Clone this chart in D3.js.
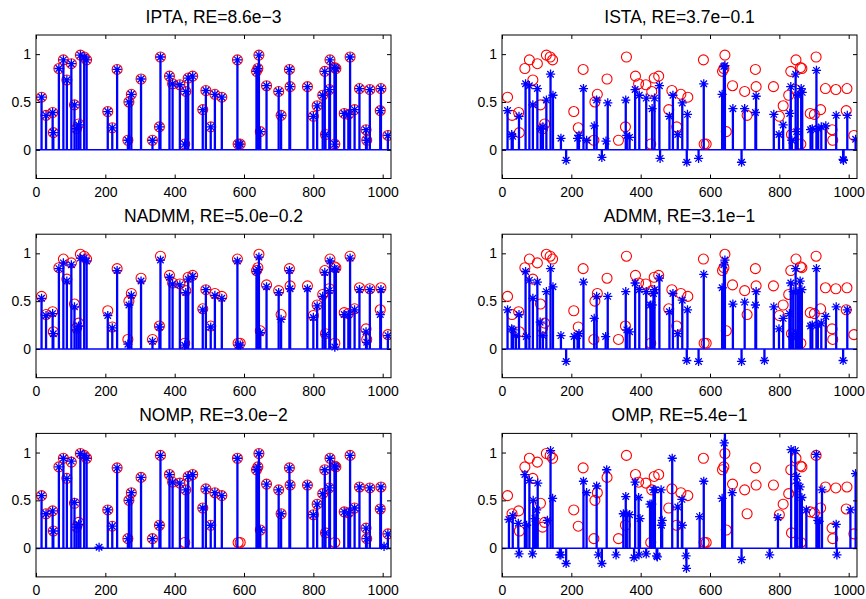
<!DOCTYPE html>
<html>
<head>
<meta charset="utf-8">
<script src="https://cdn.jsdelivr.net/npm/d3@7"></script>
<style>
  body { margin: 0; background: #fff; }
  svg { display: block; }
  text { font-family: "Liberation Sans", Arial, Helvetica, sans-serif; fill: #000; }
</style>
</head>
<body>
<svg id="chart" width="866" height="599"></svg>
<script>
// true sparse signal (red circles), [index, value]
var truth = [[16,.55],[29,.36],[48,.39],[50,.18],[66,.85],[79,.94],[89,.73],[102,.90],[111,.47],[117,.22],[123,.27],[128,.99],[139,.97],[146,.94],
  [207,.40],[220,.23],[234,.84],[265,.10],[268,.50],[275,.58],[303,.74],[336,.10],[356,.24],[359,.97],
  [385,.77],[394,.69],[415,.68],[429,.06],[432,.61],[439,.75],[452,.77],[481,.42],[490,.62],[504,.24],[516,.58],[536,.55],
  [581,.94],[583,.06],[589,.06],[636,.82],[640,.85],[643,.99],[647,.19],[665,.67],[700,.61],[707,.36],[731,.84],[733,.66],
  [783,.66],[800,.35],[811,.46],[827,.57],[833,.82],[835,.16],[846,.63],[848,.94],[861,.86],[862,.06],[865,.85],
  [889,.38],[901,.37],[906,.97],[919,.42],[933,.64],[952,.21],[954,.10],[963,.63],[993,.41],[995,.64],[1015,.15]];

// recovered signals (blue stems)
var ipta = [[16,.55],[29,.36],[48,.39],[50,.18],[66,.85],[79,.94],[89,.73],[102,.90],[111,.47],[117,.22],[123,.26],[128,.99],[139,.97],[146,.94],
  [207,.40],[220,.23],[234,.84],[265,.10],[268,.50],[275,.58],[303,.74],[336,.10],[356,.24],[359,.97],
  [385,.77],[394,.69],[415,.68],[429,.06],[432,.61],[439,.75],[452,.77],[481,.42],[490,.62],[504,.24],[516,.58],[536,.55],
  [581,.94],[583,.06],[589,.06],[636,.82],[640,.85],[643,.99],[647,.19],[665,.67],[700,.61],[707,.36],[731,.84],[733,.66],
  [783,.66],[800,.35],[811,.46],[827,.57],[833,.82],[835,.16],[846,.63],[848,.94],[861,.86],[862,.06],[865,.85],
  [889,.38],[901,.37],[906,.97],[919,.42],[933,.64],[952,.21],[954,.10],[963,.63],[993,.41],[995,.64],[1015,.15]];

var ista = [[16,.41],[28,.16],[31,.14],[49,.35],[68,.69],[79,.67],[89,.47],[102,.64],[112,.22],[118,.24],[128,.52],[140,.79],[147,.57],
  [170,.12],[185,-.11],[218,.12],[222,.15],[235,.64],[244,.10],[266,.25],[273,.52],[288,-.08],[300,.09],[305,.49],
  [357,.52],[360,.15],[368,.13],[384,.63],[396,.57],[416,.54],[433,.43],[440,.54],[454,.67],[456,-.09],
  [483,.35],[493,.57],[507,.16],[520,.49],[533,-.13],[535,.37],[567,-.09],[582,.69],[635,.58],[640,.87],[643,.88],
  [666,.43],[691,-.13],[700,.43],[731,.39],[733,.56],[784,.37],[799,.16],[811,.26],[830,.38],[833,.66],[836,.10],
  [847,.79],[850,.19],[853,.57],[863,.64],[866,.60],[890,.21],[895,.22],[907,.83],[912,.22],[921,.24],[934,.25],
  [964,.36],[984,-.10],[985,-.11],[996,.36],[1020,.11]];

var nadmm = [[16,.53],[29,.35],[48,.37],[50,.16],[66,.84],[79,.90],[89,.71],[102,.88],[111,.44],[117,.20],[123,.24],[128,.95],[139,.95],[146,.92],
  [207,.35],[220,.22],[234,.82],[265,.05],[268,.46],[275,.56],[303,.71],[336,.08],[356,.23],[359,.93],
  [385,.75],[394,.68],[415,.67],[429,.04],[432,.59],[439,.73],[452,.76],[481,.41],[490,.62],[504,.23],[516,.56],[536,.53],
  [581,.92],[583,.04],[589,.04],[636,.81],[640,.83],[643,.96],[647,.17],[665,.65],[700,.59],[707,.31],[731,.82],[733,.63],
  [783,.63],[800,.33],[811,.45],[827,.55],[833,.80],[835,.15],[846,.61],[848,.92],[861,.84],[862,.02],[865,.83],
  [889,.36],[901,.36],[906,.95],[919,.41],[933,.62],[952,.18],[954,.07],[963,.62],[993,.36],[995,.62],[1015,.14]];

var admm = [[16,.41],[28,.21],[32,.20],[40,.14],[49,.36],[68,.81],[70,.13],[79,.72],[89,.53],[102,.70],[110,.28],[118,.14],[128,.60],[140,.84],[147,.65],
  [170,.14],[185,-.13],[208,.13],[218,.14],[222,.16],[235,.70],[266,.32],[273,.55],[299,.13],[305,.55],
  [357,.60],[360,.20],[368,.18],[384,.69],[396,.62],[416,.60],[428,.46],[433,.46],[437,.58],[440,.62],[454,.74],
  [483,.39],[493,.58],[507,.16],[520,.51],[533,-.12],[535,.41],[567,-.13],[582,.78],[635,.64],[640,.88],[643,.93],
  [666,.47],[691,-.13],[700,.49],[731,.46],[733,.60],[757,-.12],[784,.44],[799,.21],[811,.32],[829,.37],[833,.69],[836,.13],
  [840,.60],[847,.84],[851,.16],[854,.60],[860,.71],[865,.62],[890,.24],[895,.25],[907,.84],[911,.25],[921,.27],[934,.34],
  [964,.44],[984,-.12],[996,.41]];

var nomp = [[16,.55],[29,.36],[48,.39],[50,.18],[66,.85],[79,.94],[89,.73],[102,.91],[111,.48],[117,.22],[123,.25],[128,.99],[139,.97],[146,.94],
  [182,.01],[207,.40],[220,.23],[234,.84],[265,.10],[268,.50],[275,.58],[303,.74],[336,.10],[356,.24],[359,.97],
  [385,.77],[394,.69],[415,.68],[432,.61],[439,.75],[452,.77],[481,.42],[490,.62],[504,.24],[516,.58],[536,.55],
  [581,.94],[636,.82],[640,.85],[643,.99],[647,.19],[665,.67],[700,.61],[707,.36],[731,.84],[733,.66],
  [783,.66],[800,.35],[811,.46],[827,.57],[833,.82],[835,.16],[846,.63],[848,.94],[861,.86],[865,.85],
  [889,.38],[901,.37],[906,.97],[919,.42],[933,.64],[952,.21],[954,.10],[963,.63],[993,.41],[995,.64],[1004,.02],[1015,.15]];

var omp = [[20,.30],[31,.34],[47,.26],[49,-.06],[66,.77],[71,.24],[79,.71],[88,-.06],[90,.50],[95,.31],[100,.40],[103,.68],
  [131,.29],[140,1.02],[146,.52],[167,-.07],[170,-.07],[185,-.16],[235,.70],[244,.58],[273,.65],[278,-.07],[288,-.16],[302,.82],
  [329,-.07],[350,.36],[357,.54],[360,.36],[368,.35],[381,-.10],[384,.69],[394,.53],[395,-.07],[398,.31],[416,-.06],
  [427,.46],[432,.46],[437,.61],[441,.61],[446,-.08],[448,-.09],[459,.61],[460,.24],[462,.29],[491,.94],[507,.43],
  [519,.51],[520,.24],[531,-.08],[532,-.21],[570,.33],[582,.70],[635,.52],[641,1.10],[643,1.35],[664,.58],[691,-.12],
  [772,-.07],[796,.32],[834,1.03],[846,1.02],[850,.75],[852,.68],[860,.64],[865,.53],[878,.40],[907,.98],[911,.29],
  [915,.28],[923,.61],[964,.25],[966,-.07],[1005,.40],[1020,.78]];

var xTicks = [0, 200, 400, 600, 800, 1000];
var yTicks = [0, 0.5, 1];

var panels = [
  {title: "IPTA, RE=8.6e\u22123", est: ipta},
  {title: "ISTA, RE=3.7e\u22120.1", est: ista},
  {title: "NADMM, RE=5.0e\u22120.2", est: nadmm},
  {title: "ADMM, RE=3.1e\u22121", est: admm},
  {title: "NOMP, RE=3.0e\u22122", est: nomp},
  {title: "OMP, RE=5.4e\u22121", est: omp}
];

//LAYOUT
var colX = [36, 502];
var rowY = [35, 234.2, 433.4];
var plotW = 355, plotH = 143.5;

var svg = d3.select("#chart");

var x = d3.scaleLinear().domain([0, 1024]).range([0, plotW]);
var y = d3.scaleLinear().domain([-0.3, 1.2]).range([plotH, 0]);

// MATLAB style asterisk: + and x overlaid
var r = 4.6, dg = r * 0.7071;
var star = "M0," + (-r) + "V" + r + "M" + (-r) + ",0H" + r +
  "M" + (-dg) + "," + (-dg) + "L" + dg + "," + dg + "M" + (-dg) + "," + dg + "L" + dg + "," + (-dg);

panels.forEach(function(p, i) {
  var col = i % 2, row = Math.floor(i / 2);
  var g = svg.append("g").attr("transform", "translate(" + colX[col] + "," + rowY[row] + ")");

  g.append("clipPath").attr("id", "clip" + i)
    .append("rect").attr("width", plotW).attr("height", plotH);

  var plot = g.append("g").attr("clip-path", "url(#clip" + i + ")");

  //baseline
  plot.append("line")
    .attr("x1", x(0)).attr("x2", x(1024))
    .attr("y1", y(0)).attr("y2", y(0))
    .style("stroke", "#0000ff").style("stroke-width", 1.6);

  //true values
  plot.selectAll("circle").data(truth).join("circle")
    .attr("cx", d => x(d[0]))
    .attr("cy", d => y(d[1]))
    .attr("r", 5)
    .style("fill", "none").style("stroke", "#ff0000").style("stroke-width", 1.1);

  //stems
  plot.selectAll("line.stem").data(p.est).join("line")
    .classed("stem", true)
    .attr("x1", d => x(d[0])).attr("x2", d => x(d[0]))
    .attr("y1", y(0)).attr("y2", d => y(d[1]))
    .style("stroke", "#0000ff").style("stroke-width", 2.3);

  plot.selectAll("path.mark").data(p.est).join("path")
    .classed("mark", true)
    .attr("d", star)
    .attr("transform", d => "translate(" + x(d[0]) + "," + y(d[1]) + ")")
    .style("fill", "none").style("stroke", "#0000ff").style("stroke-width", 1.3);

  //axes, ticks point inward on all four sides
  g.append("g").attr("transform", "translate(0," + plotH + ")")
    .call(d3.axisBottom(x).tickValues(xTicks).tickFormat(d3.format("d")).tickSizeInner(-4).tickSizeOuter(0).tickPadding(8.5));
  g.append("g")
    .call(d3.axisLeft(y).tickValues(yTicks).tickFormat(d3.format("")).tickSizeInner(-4).tickSizeOuter(0).tickPadding(5));
  g.append("g")
    .call(d3.axisTop(x).tickValues(xTicks).tickFormat("").tickSizeInner(-4).tickSizeOuter(0));
  g.append("g").attr("transform", "translate(" + plotW + ",0)")
    .call(d3.axisRight(y).tickValues(yTicks).tickFormat("").tickSizeInner(-4).tickSizeOuter(0));

  g.selectAll(".domain").remove();
  g.selectAll(".tick line").style("stroke", "#000");
  g.selectAll(".tick text").style("font-size", "14px").style("font-family", "'Liberation Sans', Arial, sans-serif");

  g.append("rect")
    .attr("width", plotW).attr("height", plotH)
    .style("fill", "none").style("stroke", "#000").style("stroke-width", 1);

  g.append("text")
    .attr("x", plotW / 2).attr("y", -12)
    .attr("text-anchor", "middle")
    .style("font-size", "17.5px")
    .text(p.title);
});
</script>
</body>
</html>
